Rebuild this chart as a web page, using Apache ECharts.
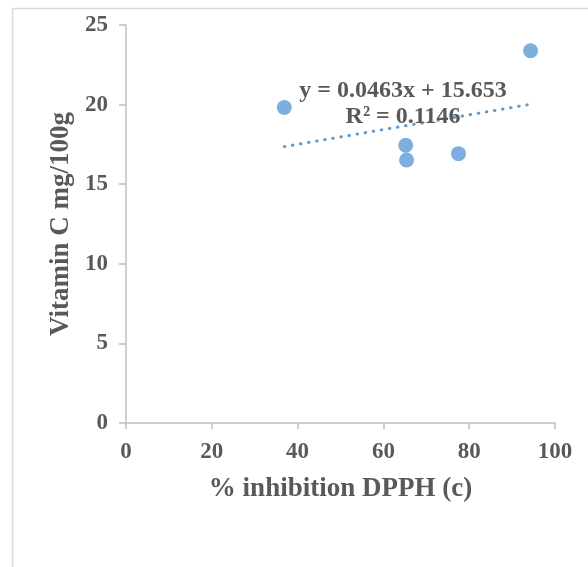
<!DOCTYPE html>
<html>
<head>
<meta charset="utf-8">
<script src="https://cdn.jsdelivr.net/npm/echarts@6/dist/echarts.min.js"></script>
<style>
  html, body { margin: 0; padding: 0; background: #fff; }
  #chart { width: 588px; height: 567px; }
</style>
</head>
<body>
<div id="chart"></div>
<script>
// % inhibition DPPH vs vitamin C content
const inhibitionDPPH = [36.9, 65.2, 65.4, 77.5, 94.3];
const vitaminC = [19.82, 17.45, 16.52, 16.92, 23.38];

// Linear trendline coefficients (as printed on the chart)
const slope = 0.0463;
const intercept = 15.653;
const rSquared = 0.1146;

const xTicks = [0, 20, 40, 60, 80, 100];
const yTicks = [0, 5, 10, 15, 20, 25];

const FONT = '"Liberation Serif", "Times New Roman", serif';
const TEXT = '#595959';
const AXIS = '#BFBFBF';
const POINT = '#5B9BD5';

const points = inhibitionDPPH.map((x, i) => [x, vitaminC[i]]);
const xMin = Math.min(...inhibitionDPPH);
const xMax = Math.max(...inhibitionDPPH);
const trend = [xMin, xMax].map(x => [x, slope * x + intercept]);

const chart = echarts.init(document.getElementById('chart'), null, { renderer: 'canvas' });
chart.setOption({
  animation: false,
  backgroundColor: '#fff',
  grid: { left: 126, right: 33, top: 25, bottom: 144, containLabel: false },
  xAxis: {
    type: 'value',
    min: xTicks[0], max: xTicks[xTicks.length - 1], interval: 20,
    name: '% inhibition DPPH (c)',
    nameLocation: 'middle',
    nameGap: 53,
    nameTextStyle: { fontFamily: FONT, fontWeight: 'bold', fontSize: 27, color: TEXT },
    axisLine: { show: true, onZero: false, lineStyle: { color: AXIS, width: 1.5 } },
    axisTick: { show: true, length: 6, lineStyle: { color: AXIS, width: 1.5 } },
    axisLabel: { margin: 18, fontFamily: FONT, fontWeight: 'bold', fontSize: 23, color: TEXT },
    splitLine: { show: false }
  },
  yAxis: {
    type: 'value',
    min: yTicks[0], max: yTicks[yTicks.length - 1], interval: 5,
    name: 'Vitamin C mg/100g',
    nameLocation: 'middle',
    nameGap: 50,
    nameTextStyle: { fontFamily: FONT, fontWeight: 'bold', fontSize: 27, color: TEXT },
    axisLine: { show: true, onZero: false, lineStyle: { color: AXIS, width: 1.5 } },
    axisTick: { show: true, length: 7, lineStyle: { color: AXIS, width: 1.5 } },
    axisLabel: { margin: 18, fontFamily: FONT, fontWeight: 'bold', fontSize: 23, color: TEXT },
    splitLine: { show: false }
  },
  graphic: [
    {
      type: 'rect',
      shape: { x: 12.5, y: 8.5, width: 640, height: 640 },
      style: { fill: 'none', stroke: '#D9D9D9', lineWidth: 1.5 },
      silent: true, z: -1
    },
    {
      type: 'text',
      x: 403, y: 78,
      style: {
        text: 'y = ' + slope + 'x + ' + intercept + '\nR² = ' + rSquared,
        align: 'center',
        fontFamily: FONT, fontWeight: 'bold', fontSize: 24, lineHeight: 26,
        fill: TEXT
      },
      z: 10
    }
  ],
  series: [
    {
      type: 'scatter',
      data: points,
      symbol: 'circle',
      symbolSize: 15,
      itemStyle: { color: POINT },
      z: 3
    },
    {
      type: 'line',
      data: trend,
      symbol: 'none',
      lineStyle: { color: POINT, width: 3, type: [0.5, 7.7], cap: 'round' },
      z: 4
    }
  ]
});
</script>
</body>
</html>
